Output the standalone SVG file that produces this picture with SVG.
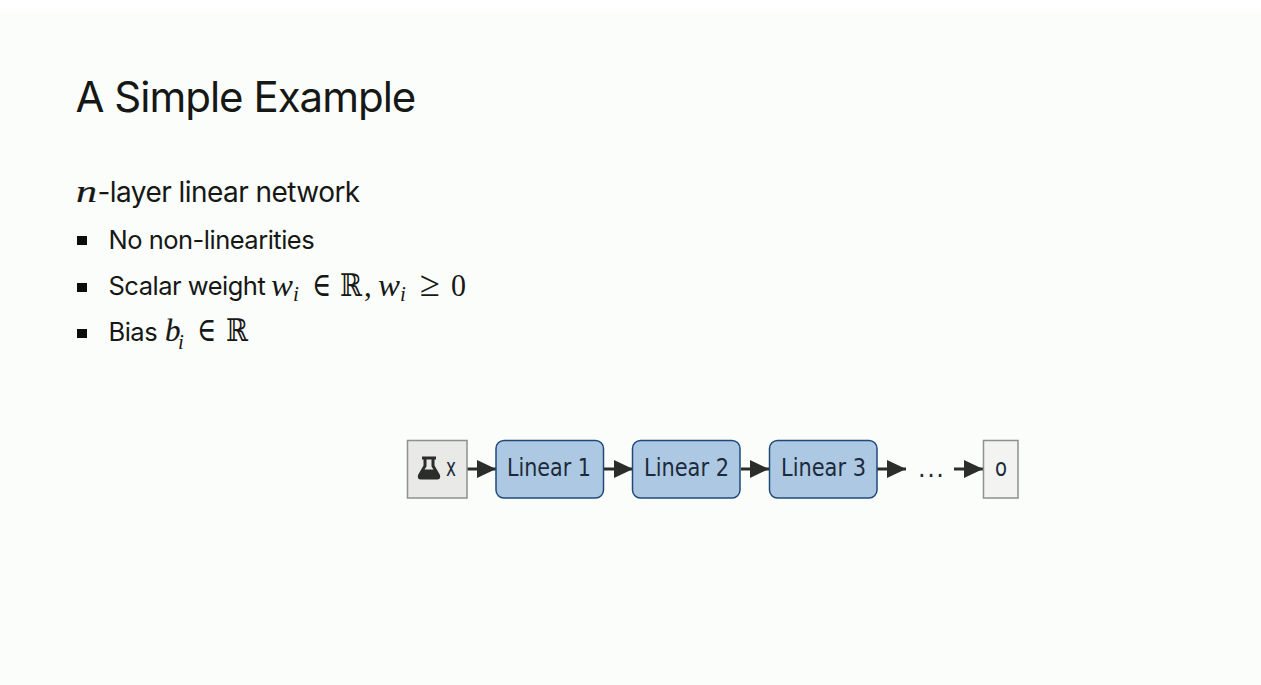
<svg xmlns="http://www.w3.org/2000/svg" width="1261" height="685" viewBox="0 0 1261 685">
<style>
.t{font-family:Inter,"Liberation Sans",sans-serif;fill:#161816}
.h{font-size:42px;letter-spacing:-1px}
.p{font-size:28px;letter-spacing:-.55px}
.b{font-size:25.5px;letter-spacing:-.5px}
.m{font-family:"Liberation Serif","DejaVu Serif",serif;fill:#161816;font-size:31px}
.i{font-style:italic}
.s{font-size:21px;font-style:italic}
.l{font-family:"DejaVu Sans",Verdana,sans-serif;font-size:24px;fill:#1c2a3a}
.n{fill:#adc8e3;stroke:#1f4a78;stroke-width:1.5}
.c{stroke:#2b2d2a;stroke-width:3;fill:none;marker-end:url(#a)}
</style>
<defs><marker id="a" markerUnits="userSpaceOnUse" markerWidth="20" markerHeight="20" refX="19" refY="9.500" orient="auto"><path d="M0 0.500L19 9.500L0 18.500Z" fill="#2b2d2a"/></marker></defs>
<rect width="1261" height="685" fill="#fbfdfa"/>
<rect width="1261" height="13" fill="#fff"/>
<text class="t h" x="75.500" y="112">A Simple Example</text>
<text class="m i" x="76" y="202" textLength="21" lengthAdjust="spacingAndGlyphs" stroke="#161816" stroke-width=".2">n</text>
<text class="t p" x="97.500" y="202">-layer linear network</text>
<g fill="#0c0c0c"><rect x="77" y="236" width="10" height="9"/><rect x="77" y="283" width="10" height="9"/><rect x="77" y="329" width="10" height="9"/></g>
<text class="t b" x="108.500" y="249">No non-linearities</text>
<text class="t b" x="108.500" y="295">Scalar weight</text>
<text class="m i" x="271" y="296" textLength="22" lengthAdjust="spacingAndGlyphs">w</text><text class="m s" x="293" y="301">i</text>
<text class="m" x="312" y="296" textLength="19" lengthAdjust="spacingAndGlyphs" style="font-size:34px">∈</text>
<text class="m" x="340" y="296" textLength="22" lengthAdjust="spacingAndGlyphs">ℝ</text>
<text class="m" x="364" y="296">,</text>
<text class="m i" x="378" y="296" textLength="22" lengthAdjust="spacingAndGlyphs">w</text><text class="m s" x="400" y="301">i</text>
<text class="m" x="420" y="296" textLength="20" lengthAdjust="spacingAndGlyphs" style="font-size:36px">≥</text>
<text class="m" x="451" y="296" textLength="15" lengthAdjust="spacingAndGlyphs">0</text>
<text class="t b" x="108.500" y="341">Bias</text>
<text class="m i" x="165" y="341" stroke="#161816" stroke-width=".2">b</text><text class="m s" x="178" y="349">i</text>
<text class="m" x="197" y="341" textLength="19" lengthAdjust="spacingAndGlyphs" style="font-size:34px">∈</text>
<text class="m" x="226" y="341" textLength="22" lengthAdjust="spacingAndGlyphs">ℝ</text>
<g id="connectors">
<path class="c" d="M467 469H496"/>
<path class="c" d="M604 469H633"/>
<path class="c" d="M741 469H769"/>
<path class="c" d="M877 469H906"/>
<path class="c" d="M954 469H983"/>
</g>
<g id="node-x"><rect x="407.500" y="440.500" width="59.500" height="57.500" fill="#e9eae7" stroke="#8f908c" stroke-width="1.500"/>
<path fill-rule="evenodd" d="M422 456.500H436V459.500H434.500V465.500L440 475Q441 479.500 437 479.500H421Q417 479.500 418 475L423.500 465.500V459.500H422ZM426.500 459.500V466.500L424.500 469.500H433.500L431.500 466.500V459.500Z" fill="#2b2d2a"/>
<text class="l" x="446" y="476" textLength="10" lengthAdjust="spacingAndGlyphs">x</text></g>
<g id="node-l1"><rect class="n" x="496" y="440.500" width="107.500" height="57.500" rx="8"/><text class="l" x="507" y="476" textLength="84" lengthAdjust="spacingAndGlyphs">Linear 1</text></g>
<g id="node-l2"><rect class="n" x="632.500" y="440.500" width="107.500" height="57.500" rx="8"/><text class="l" x="644" y="476" textLength="85" lengthAdjust="spacingAndGlyphs">Linear 2</text></g>
<g id="node-l3"><rect class="n" x="769.500" y="440.500" width="107.500" height="57.500" rx="8"/><text class="l" x="781" y="476" textLength="85" lengthAdjust="spacingAndGlyphs">Linear 3</text></g>
<g id="node-dots"><text class="l" x="918" y="477" letter-spacing="1.500">...</text></g>
<g id="node-o"><rect x="983.500" y="440.500" width="34.500" height="57.500" fill="#f3f4f2" stroke="#8f908c" stroke-width="1.500"/><text class="l" x="995" y="476" textLength="12" lengthAdjust="spacingAndGlyphs">o</text></g>
</svg>
